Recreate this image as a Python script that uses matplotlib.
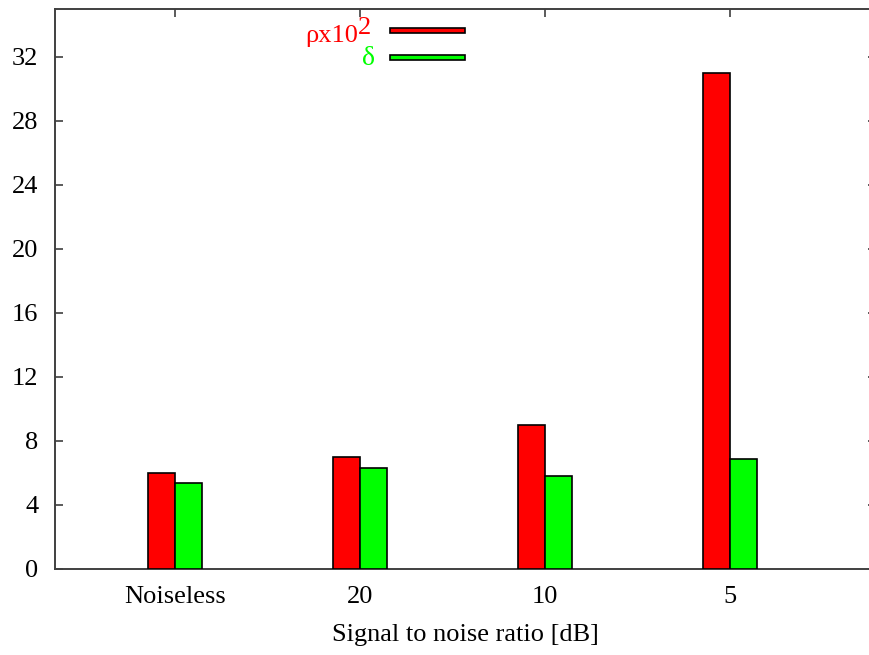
import numpy as np
import matplotlib.pyplot as plt
from matplotlib.patches import Rectangle

plt.rcParams['font.family'] = ['Liberation Serif', 'DejaVu Serif']

# distortion measures vs. SNR
categories = ['Noiseless', '20', '10', '5']
rho_x100 = [6.0, 7.0, 9.0, 31.0]
delta = [5.4, 6.3, 5.8, 6.9]
yticks = [0, 4, 8, 12, 16, 20, 24, 28, 32]

red = '#ff0000'
green = '#00ff00'
axcol = '#404040'

fig = plt.figure(figsize=(8.7, 6.55), dpi=100)
ax = fig.add_axes([0.0632, 0.1313, 0.9437, 0.8554])

x = np.arange(len(categories))
w = 0.145
ax.bar(x - w, rho_x100, width=w, align='edge', color=red,
       edgecolor='black', linewidth=1.2, zorder=3)
ax.bar(x, delta, width=w, align='edge', color=green,
       edgecolor='black', linewidth=1.2, zorder=3)

ax.set_xlim(-0.65, 3.79)
ax.set_ylim(0, 35)
ax.set_xticks(x)
ax.set_xticklabels(categories)
ax.set_yticks(yticks)

for s in ax.spines.values():
    s.set_color(axcol)
    s.set_linewidth(1.4)

ax.tick_params(axis='both', direction='in', length=6, width=1.2,
               color=axcol, labelsize=19, top=True, right=True)
ax.tick_params(axis='y', pad=12)
ax.tick_params(axis='x', pad=12)

ax.set_xlabel('Signal to noise ratio [dB]', fontsize=19, labelpad=12)

# key: label on the left, thin sample box on the right (gnuplot style)
tr = ax.transAxes
ax.text(0.369, 0.9406, 'ρx10', color=red, fontsize=19, ha='right',
        va='baseline', transform=tr)
ax.text(0.369, 0.9557, '2', color=red, fontsize=19, ha='left',
        va='baseline', transform=tr)
ax.text(0.3898, 0.8995, 'δ', color=green, fontsize=20, ha='right',
        va='baseline', transform=tr)
for yc, col in [(0.961, red), (0.913, green)]:
    ax.add_patch(Rectangle((0.408, yc - 0.0045), 0.0914, 0.009,
                           facecolor=col, edgecolor='black', linewidth=1.2,
                           transform=tr, clip_on=False, zorder=4))

fig.savefig('out.png', dpi=100)
